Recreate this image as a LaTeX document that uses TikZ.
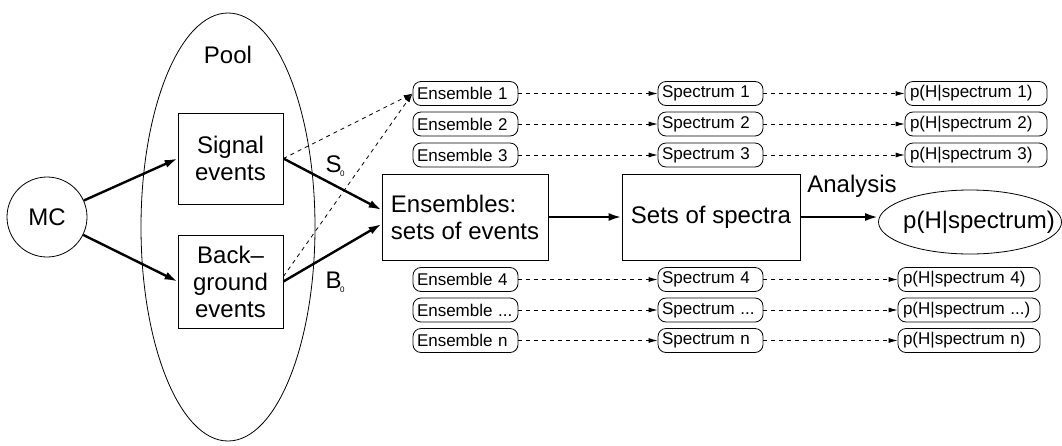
\documentclass[tikz,border=0pt]{standalone}
\usepackage{fontspec}
\setmainfont{Liberation Sans}
\usetikzlibrary{shapes,arrows.meta}

\begin{document}
\begin{tikzpicture}[x=1pt,y=-1pt,line width=0.8pt]
\tikzstyle{big}=[font=\fontsize{24}{27}\selectfont]
\tikzstyle{box}=[draw,rectangle,big,align=center,inner sep=0pt]
\tikzstyle{small}=[draw,rounded corners=8pt,font=\fontsize{17}{17}\selectfont,text width=97pt,align=left,minimum height=24pt,inner ysep=0pt,inner xsep=4pt]
\tikzstyle{wide}=[small,text width=132pt,inner xsep=5pt]
\tikzstyle{flow}=[line width=2.4pt,-{Latex[length=13pt,width=8pt]}]
\tikzstyle{ghost}=[dash pattern=on 4pt off 4pt,-{Latex[length=9pt,width=5pt]}]
\useasboundingbox (0,0) rectangle (1062,445);
% generation and pool
\node [draw,circle,minimum size=80pt,big] (mc) at (47,217) {MC};
\node [draw,ellipse,minimum width=174pt,minimum height=428pt] (pool) at (228,227) {};
\node [big] (poolname) at (228,55) {Pool};
\node [box,minimum width=105pt,minimum height=91pt] (sig) at (230.5,158.5) {Signal\\events};
\node [box,minimum width=105pt,minimum height=93pt] (bkg) at (230.5,281.5) {Back--\\ground\\events};
\node [big] (s0) at (335,166) {S\kern-1.5pt\raisebox{-4pt}{\fontsize{8}{8}\selectfont 0}};
\node [big] (b0) at (335,282) {B\kern-1.5pt\raisebox{-4pt}{\fontsize{8}{8}\selectfont 0}};
% main chain
\node [box,minimum width=166pt,minimum height=86pt,align=left] (ens) at (465,217) {Ensembles:\\sets of events};
\node [box,minimum width=178pt,minimum height=86pt] (sets) at (711,217) {Sets of spectra};
\node [draw,ellipse,big,minimum width=183pt,minimum height=64pt,inner sep=0pt] (post) at (970,222) {\makebox[0pt]{\hspace{18pt}p(H|spectrum)}};
\node [big] (analysis) at (852,186) {Analysis};
% ensembles
\node [small] (e1) at (465.5,93.5) {Ensemble 1};
\node [small] (e2) at (465.5,124) {Ensemble 2};
\node [small] (e3) at (465.5,155) {Ensemble 3};
\node [small] (e4) at (465.5,279.5) {Ensemble 4};
\node [small] (e5) at (465.5,310) {Ensemble ...};
\node [small] (e6) at (465.5,340.5) {Ensemble n};
% spectra
\begin{scope}[node distance=245pt]
\node [small,right of=e1] (s1) {Spectrum 1};
\node [small,right of=e2] (s2) {Spectrum 2};
\node [small,right of=e3] (s3) {Spectrum 3};
\node [small,right of=e4] (s4) {Spectrum 4};
\node [small,right of=e5] (s5) {Spectrum ...};
\node [small,right of=e6] (s6) {Spectrum n};
\end{scope}
% posteriors
\begin{scope}[node distance=265.5pt]
\node [wide,right of=s1] (p1) {p(H|spectrum 1)};
\node [wide,right of=s2] (p2) {p(H|spectrum 2)};
\node [wide,right of=s3] (p3) {p(H|spectrum 3)};
\end{scope}
\begin{scope}[node distance=258.5pt]
\node [wide,right of=s4] (p4) {p(H|spectrum 4)};
\node [wide,right of=s5] (p5) {p(H|spectrum ...)};
\node [wide,right of=s6] (p6) {p(H|spectrum n)};
\end{scope}
\draw [flow] (mc) -- (sig.west);
\draw [flow] (mc) -- (bkg.west);
\draw [flow] (sig.east) -- ([yshift=7pt]ens.west);
\draw [flow] (bkg.east) -- ([yshift=-7pt]ens.west);
\draw [ghost] (sig.east) -- (e1.west);
\draw [ghost] ([yshift=5pt]bkg.east) -- (e1.west);
\draw [flow] (ens) -- (sets);
\draw [flow] (sets.east) -- (sets.east -| post.west);
\path
    (e1) edge [ghost] (s1)
    (e2) edge [ghost] (s2)
    (e3) edge [ghost] (s3)
    (e4) edge [ghost] (s4)
    (e5) edge [ghost] (s5)
    (e6) edge [ghost] (s6);
\path
    (s1) edge [ghost] (p1)
    (s2) edge [ghost] (p2)
    (s3) edge [ghost] (p3)
    (s4) edge [ghost] (p4)
    (s5) edge [ghost] (p5)
    (s6) edge [ghost] (p6);
\end{tikzpicture}
\end{document}
